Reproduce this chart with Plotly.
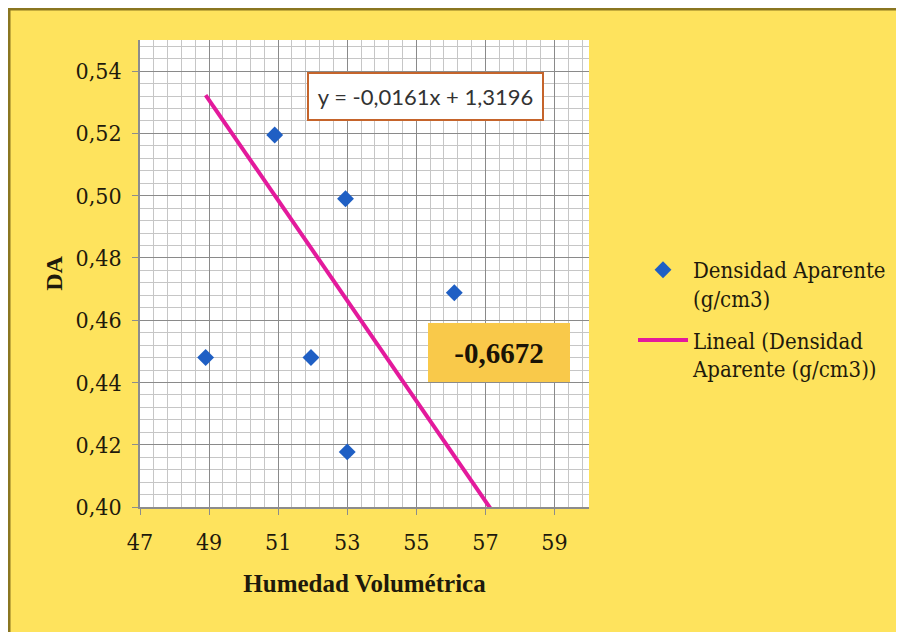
import plotly.graph_objects as go

# ---- data ----
humedad = [48.9, 50.9, 52.95, 51.95, 53.0, 56.1]
densidad = [0.448, 0.5195, 0.499, 0.448, 0.4177, 0.4688]
slope = -0.0161
intercept = 1.3196
trend_x = [48.9, 57.3]
trend_y = [slope * x + intercept for x in trend_x]
x_ticks = [47, 49, 51, 53, 55, 57, 59]
y_ticks = [0.40, 0.42, 0.44, 0.46, 0.48, 0.50, 0.52, 0.54]
eq_text = "y = -0,0161x + 1,3196"
r_text = "-0,6672"
series_name = "Densidad Aparente<br>(g/cm3)"
trend_name = "Lineal (Densidad<br>Aparente (g/cm3))"

YELLOW = "#FEE35D"
OLIVE = "#8a7620"
TXT = "#1e1a0c"
SERIF_B = "Liberation Serif"
SERIF_R = "DejaVu Serif Condensed, DejaVu Serif"

FW, FH = 896, 624          # figure size (page body has an 8px margin)
OFF = 8                     # offset of figure inside the screenshot

fig = go.Figure()
fig.add_trace(go.Scatter(
    x=humedad, y=densidad, mode="markers", name=series_name, legendgroup="a",
    marker=dict(symbol="diamond", size=13, color="#1f5fc4", line=dict(width=0)),
))
fig.add_trace(go.Scatter(
    x=trend_x, y=trend_y, mode="lines", name=trend_name, legendgroup="b",
    line=dict(color="#e31a9c", width=4),
))

# plot area in screenshot pixels: left 140, right 589, top 40, bottom 507
L, R, T, B = 140 - OFF, 589 - OFF, 40 - OFF, 507 - OFF
W, H = R - L, B - T


def xp(px):
    return (px - OFF - L) / W


def yp(py):
    return (B - (py - OFF)) / H


shapes = [
    dict(type="rect", xref="paper", yref="paper", x0=xp(8), x1=xp(920),
         y0=yp(10.5), y1=yp(8), fillcolor=OLIVE, line=dict(width=0), layer="below"),
    dict(type="rect", xref="paper", yref="paper", x0=xp(8), x1=xp(10.5),
         y0=yp(660), y1=yp(8), fillcolor=OLIVE, line=dict(width=0), layer="below"),
]

annotations = [
    dict(x=55.28, y=0.5319, xref="x", yref="y", text=eq_text, showarrow=False,
         font=dict(family="Lato, Noto Sans, sans-serif", size=22, color="#333333"),
         bgcolor="white", bordercolor="#c5642b", borderwidth=2, borderpad=2,
         width=229, height=41, align="center", valign="middle"),
    dict(x=57.39, y=0.4496, xref="x", yref="y", text="<b>" + r_text + "</b>", showarrow=False,
         font=dict(family=SERIF_B, size=29, color="#1a1306"),
         bgcolor="#f9c94a", borderwidth=0, borderpad=0,
         width=142, height=59, align="center", valign="middle"),
]

fig.update_layout(
    width=FW, height=FH,
    margin=dict(l=L, r=FW - R, t=T, b=FH - B, autoexpand=False),
    paper_bgcolor=YELLOW, plot_bgcolor="white",
    separators=",.",
    shapes=shapes, annotations=annotations,
    font=dict(family=SERIF_R, color=TXT),
    showlegend=True,
    legend=dict(
        xref="container", yref="container",
        x=(633 - OFF) / FW, y=1 - (249 - OFF) / FH, xanchor="left", yanchor="top",
        bgcolor="rgba(0,0,0,0)", font=dict(family=SERIF_R, size=22, color=TXT),
        valign="top", itemwidth=50, traceorder="grouped", tracegroupgap=10,
    ),
    xaxis=dict(
        range=[47, 60], tickvals=x_ticks, ticks="outside", ticklen=6,
        tickcolor="#8c8c8c", tickfont=dict(family=SERIF_R, size=23, color=TXT),
        showgrid=True, gridcolor="#8a8a8a", gridwidth=1.3,
        minor=dict(dtick=0.4, tick0=47, showgrid=True, gridcolor="#c6c6c6", gridwidth=1),
        showline=True, linecolor="#8c8c8c", linewidth=2, zeroline=False,
        title=dict(text="<b>Humedad Volumétrica</b>",
                   font=dict(family=SERIF_B, size=25, color=TXT), standoff=21),
        ticklabelstandoff=7,
    ),
    yaxis=dict(
        range=[0.40, 0.55], tickvals=y_ticks, tickformat=".2f", ticks="outside",
        ticklen=6, tickcolor="#8c8c8c", tickfont=dict(family=SERIF_R, size=23, color=TXT),
        showgrid=True, gridcolor="#8a8a8a", gridwidth=1.3,
        minor=dict(dtick=0.004, tick0=0.40, showgrid=True, gridcolor="#c6c6c6", gridwidth=1),
        showline=True, linecolor="#8c8c8c", linewidth=1.5, zeroline=False,
        title=dict(text="<b>DA</b>", font=dict(family=SERIF_B, size=24, color=TXT), standoff=6),
        ticklabelstandoff=6,
    ),
)

fig.write_html("out.html")
